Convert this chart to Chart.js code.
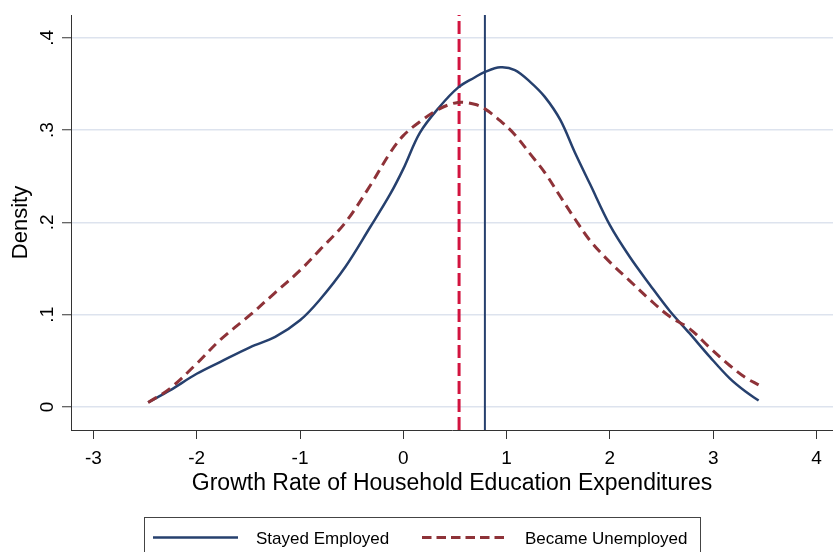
<!DOCTYPE html>
<html>
<head>
<meta charset="utf-8">
<script src="https://cdn.jsdelivr.net/npm/chart.js@4"></script>
<style>
  body { margin: 0; background: #fff; }
  canvas { display: block; }
</style>
</head>
<body>
<canvas id="myChart" width="833" height="552"></canvas>
<script>
// kernel density estimates
const xValues = [
  -2.47, -2.26, -2.0, -1.77, -1.48, -1.24, -1.0, -0.81, -0.56, -0.32, -0.13,
  0.0, 0.16, 0.35, 0.53, 0.69, 0.79, 0.94, 1.08, 1.23, 1.37, 1.52, 1.66,
  1.81, 2.0, 2.19, 2.39, 2.58, 2.77, 2.97, 3.16, 3.31, 3.44,
];
const stayedEmployed = [
  0.005, 0.018, 0.036, 0.049, 0.065, 0.076, 0.094, 0.116, 0.152, 0.195, 0.23,
  0.258, 0.297, 0.325, 0.346, 0.357, 0.363, 0.368, 0.365, 0.352, 0.336, 0.311, 0.276,
  0.241, 0.197, 0.163, 0.132, 0.104, 0.08, 0.054, 0.031, 0.017, 0.007,
];
const becameUnemployed = [
  0.005, 0.02, 0.047, 0.073, 0.1, 0.124, 0.148, 0.17, 0.2, 0.24, 0.275,
  0.294, 0.309, 0.323, 0.33, 0.328, 0.323, 0.31, 0.295, 0.274, 0.254, 0.228, 0.204,
  0.18, 0.157, 0.137, 0.116, 0.098, 0.085, 0.064, 0.045, 0.032, 0.024,
];
// means (xline)
const meanUnemployed = 0.54;
const meanEmployed = 0.79;

const xTicks = [-3, -2, -1, 0, 1, 2, 3, 4];
const yTicks = [0, 0.1, 0.2, 0.3, 0.4];
const yTickLabels = ['0', '.1', '.2', '.3', '.4'];
const seriesLabels = ['Stayed Employed', 'Became Unemployed'];

const xMin = -3.217;
const xMax = 4.16;
const yMin = -0.0249;
const yMax = 0.4247;

const fontFamily = '"Liberation Sans", Arial, Helvetica, sans-serif';
const navy = '#26406e';
const maroon = '#8e3238';
const crimson = '#d2143f';

const toPoints = (ys) => xValues.map((x, i) => ({ x: x, y: ys[i] }));
const vline = (x) => [{ x: x, y: yMin }, { x: x, y: yMax }];

const data = {
  datasets: [
    {
      label: seriesLabels[0],
      data: toPoints(stayedEmployed),
      borderColor: navy,
      borderWidth: 2.5,
      pointRadius: 0,
      tension: 0.35,
      order: 2,
    },
    {
      label: seriesLabels[1],
      data: toPoints(becameUnemployed),
      borderColor: maroon,
      borderWidth: 3,
      borderDash: [10, 6],
      pointRadius: 0,
      tension: 0.35,
      order: 1,
    },
    {
      label: 'mean unemployed',
      data: vline(meanUnemployed),
      borderColor: crimson,
      borderWidth: 3,
      borderDash: [13, 5],
      pointRadius: 0,
      order: 3,
    },
    {
      label: 'mean employed',
      data: vline(meanEmployed),
      borderColor: navy,
      borderWidth: 2,
      pointRadius: 0,
      order: 3,
    },
  ],
};

// y tick labels are rotated like in Stata
const rotatedYLabels = {
  id: 'rotated_y_labels',
  afterDraw: (chart) => {
    const ctx = chart.ctx;
    const y = chart.scales.y;
    ctx.save();
    ctx.fillStyle = '#000';
    ctx.font = '19px ' + fontFamily;
    ctx.textAlign = 'center';
    ctx.textBaseline = 'alphabetic';
    yTicks.forEach((v, i) => {
      ctx.save();
      ctx.translate(53, y.getPixelForValue(v));
      ctx.rotate(-Math.PI / 2);
      ctx.fillText(yTickLabels[i], 0, 0);
      ctx.restore();
    });
    ctx.restore();
  },
};

// boxed legend under the plot
const boxedLegend = {
  id: 'boxed_legend',
  afterDraw: (chart) => {
    const ctx = chart.ctx;
    const items = chart.data.datasets.slice(0, 2);
    const lineX = [153, 422];
    const textX = [256, 525];
    const lineY = 537.5;
    ctx.save();
    ctx.strokeStyle = '#444';
    ctx.lineWidth = 1;
    ctx.strokeRect(144.5, 517.5, 556, 60);
    items.forEach((ds, i) => {
      ctx.beginPath();
      ctx.strokeStyle = ds.borderColor;
      ctx.lineWidth = ds.borderWidth;
      ctx.setLineDash(ds.borderDash ? [9.5, 5] : []);
      ctx.moveTo(lineX[i], lineY);
      ctx.lineTo(lineX[i] + 85, lineY);
      ctx.stroke();
      ctx.setLineDash([]);
      ctx.fillStyle = '#000';
      ctx.font = '17px ' + fontFamily;
      ctx.textBaseline = 'alphabetic';
      ctx.fillText(ds.label, textX[i], 544);
    });
    ctx.restore();
  },
};

const config = {
  type: 'line',
  data: data,
  plugins: [rotatedYLabels, boxedLegend],
  options: {
    responsive: false,
    animation: false,
    layout: { padding: { left: 0, right: 0, top: 15, bottom: 55 } },
    plugins: {
      legend: { display: false },
      tooltip: { enabled: false },
    },
    scales: {
      x: {
        type: 'linear',
        min: xMin,
        max: xMax,
        afterBuildTicks: (scale) => {
          scale.ticks = xTicks.map((v) => ({ value: v }));
        },
        afterFit: (scale) => {
          scale.height = 67;
        },
        grid: {
          drawOnChartArea: false,
          drawTicks: true,
          tickLength: 9,
          tickColor: '#333',
          tickWidth: 1,
        },
        border: { display: true, color: '#333', width: 1 },
        ticks: {
          color: '#000',
          font: { family: fontFamily, size: 19 },
          padding: 8,
          maxRotation: 0,
          autoSkip: false,
          callback: (v) => String(v),
        },
        title: {
          display: true,
          text: 'Growth Rate of Household Education Expenditures',
          color: '#000',
          font: { family: fontFamily, size: 23 },
          padding: 0,
        },
      },
      y: {
        type: 'linear',
        min: yMin,
        max: yMax,
        afterBuildTicks: (scale) => {
          scale.ticks = yTicks.map((v) => ({ value: v }));
        },
        afterFit: (scale) => {
          scale.width = 71;
        },
        grid: {
          color: '#dde3ee',
          lineWidth: 1.5,
          drawTicks: true,
          tickLength: 9,
          tickColor: '#333',
          tickWidth: 1,
        },
        border: { display: true, color: '#333', width: 1 },
        ticks: { display: false },
        title: {
          display: true,
          text: 'Density',
          color: '#000',
          font: { family: fontFamily, size: 22 },
          padding: { top: 8, bottom: 0 },
        },
      },
    },
  },
};

const myChart = new Chart(document.getElementById('myChart'), config);
</script>
</body>
</html>
